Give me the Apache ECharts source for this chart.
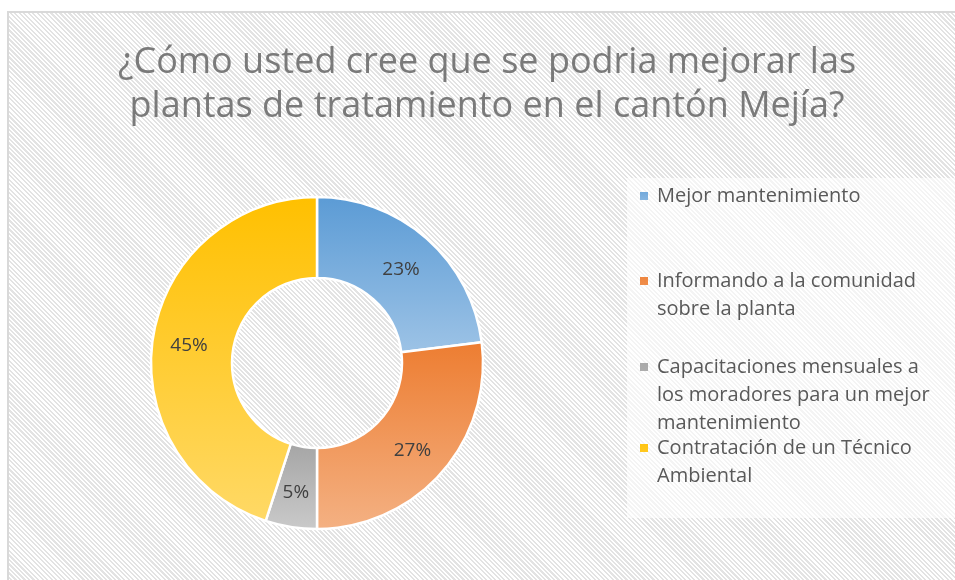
<!DOCTYPE html>
<html>
<head>
<meta charset="utf-8">
<script src="https://cdn.jsdelivr.net/npm/echarts@6/dist/echarts.min.js"></script>
<style>
  html, body { margin: 0; padding: 0; overflow: hidden; width: 955px; height: 580px; background: #fff; }
  #frame {
    position: absolute; left: 7px; top: 11px; width: 970px; height: 590px;
    border: 2px solid #d9d9d9; box-sizing: border-box;
    background: repeating-linear-gradient(45deg, #ffffff 0px, #ffffff 1.6px, #e3e3e3 1.6px, #e3e3e3 3.2px);
  }
  #main { position: absolute; left: 8px; top: 12px; width: 958px; height: 570px; }
</style>
</head>
<body>
<div id="frame"></div>
<div id="main"></div>
<script>
// datos de la encuesta
var categorias = [
    'Mejor mantenimiento',
    'Informando a la comunidad sobre la planta',
    'Capacitaciones mensuales a los moradores para un mejor mantenimiento',
    'Contratación de un Técnico Ambiental'
];
// como se corta cada texto en la leyenda
var lineasLeyenda = [
    ['Mejor mantenimiento'],
    ['Informando a la comunidad', 'sobre la planta'],
    ['Capacitaciones mensuales a', 'los moradores para un mejor', 'mantenimiento'],
    ['Contratación de un Técnico', 'Ambiental']
];
var porcentajes = [23, 27, 5, 45];

var myChart = echarts.init(document.getElementById('main'), null, { renderer: 'canvas' });

var fuente = '"Open Sans", Lato, sans-serif';
var colores = [
    ['#5b9bd5', '#9dc3e6'],   // azul
    ['#ed7d31', '#f4b183'],   // naranja
    ['#a5a5a5', '#cacaca'],   // gris
    ['#ffc000', '#ffd966']    // amarillo
];
var topsLeyenda = [170, 255, 341, 422];
var altoLinea = 28;

var datos = categorias.map(function (c, i) {
    return {
        name: c,
        value: porcentajes[i],
        itemStyle: {
            color: new echarts.graphic.LinearGradient(0, 0, 0, 1, [
                { offset: 0, color: colores[i][0] },
                { offset: 1, color: colores[i][1] }
            ])
        }
    };
});

// una leyenda por elemento, para separarlos como en el original
// el icono va en la primera linea: cuadro arriba + linea sin area que estira la caja
var leyendas = categorias.map(function (c, i) {
    var alto = lineasLeyenda[i].length * altoLinea;
    return {
        data: [c],
        orient: 'vertical',
        left: 632,
        top: topsLeyenda[i],
        padding: 0,
        itemWidth: 12,
        itemHeight: alto,
        itemGap: 0,
        icon: 'path://M0,10h8v8h-8z M0,0L12,' + alto,
        selectedMode: false,
        itemStyle: { borderWidth: 0 },
        formatter: function () { return lineasLeyenda[i].join('\n'); },
        textStyle: {
            fontFamily: fuente,
            fontSize: 20,
            color: '#595959',
            lineHeight: altoLinea
        }
    };
});

var option = {
    animation: false,
    title: {
        text: '¿Cómo usted cree que se podria mejorar las\nplantas de tratamiento en el cantón Mejía?',
        left: 'center',
        top: 29,
        padding: 0,
        textStyle: {
            fontFamily: fuente,
            fontSize: 36,
            fontWeight: 'normal',
            color: '#7a7a7a',
            lineHeight: 44
        }
    },
    graphic: [{
        type: 'rect',
        left: 619,
        top: 166,
        shape: { width: 345, height: 340 },
        style: { fill: 'rgba(255,255,255,0.6)' },
        silent: true,
        z: -1
    }],
    legend: leyendas,
    series: [{
        name: 'Mejoras',
        type: 'pie',
        center: [309, 351],
        radius: [85, 166],
        startAngle: 90,
        clockwise: true,
        avoidLabelOverlap: false,
        itemStyle: { borderColor: '#ffffff', borderWidth: 2.5 },
        label: {
            show: true,
            position: 'inside',
            offset: [-1, 3],
            formatter: function (p) { return p.value + '%'; },
            fontFamily: fuente,
            fontSize: 19,
            color: '#404040'
        },
        labelLine: { show: false },
        emphasis: { disabled: true },
        data: datos
    }]
};

myChart.setOption(option, true);
</script>
</body>
</html>
